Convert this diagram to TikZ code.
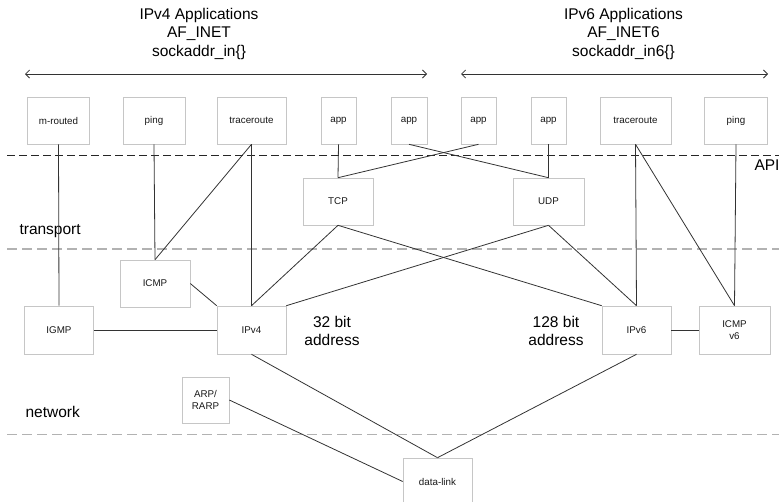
\documentclass[tikz,border=0pt]{standalone}
\usepackage{fontspec}
\setmainfont{Liberation Sans}
\usetikzlibrary{arrows.meta}

\begin{document}
\begin{tikzpicture}[x=1pt, y=-1pt, >={Straight Barb[length=4pt,width=8pt]},
  box/.style={draw=gray!45, line width=0.6pt, fill=white, inner sep=0pt,
    minimum height=47pt, text=black!90, align=center,
    font=\fontsize{9.8}{12.5}\selectfont},
  link/.style={draw=black!80, line width=0.8pt},
  layer/.style={draw=gray!60, line width=1.8pt, dash pattern=on 10pt off 5pt},
  big/.style={text=black, align=center, font=\fontsize{15.5}{18.5}\selectfont}]
  % page 779 x 501 px, one px = 1pt, y grows downwards
  \useasboundingbox (0,0) rectangle (779,501);

  % Headings and scope arrows
  \node[big] (v4head) at (199,33.5) {IPv4 Applications\\AF\_INET\\sockaddr\_in\{\}};
  \node[big] (v6head) at (623.5,33.5) {IPv6 Applications\\AF\_INET6\\sockaddr\_in6\{\}};
  \coordinate (v4l) at (25,74);
  \coordinate (v4r) at (427,74);
  \coordinate (v6l) at (461,74);
  \coordinate (v6r) at (768,74);
  \draw[<->, black!80, line width=0.8pt] (v4l) -- (v4r);
  \draw[<->, black!80, line width=0.8pt] (v6l) -- (v6r);

  % Layer boundaries
  \coordinate (apil) at (7,155);   \coordinate (apir) at (779,155);
  \coordinate (trl) at (7,249);    \coordinate (trr) at (779,249);
  \coordinate (netl) at (7,434.5); \coordinate (netr) at (779,434.5);
  \draw[black!85, line width=1pt, dash pattern=on 8pt off 4pt] (apil) -- (apir);
  \draw[layer] (trl) -- (trr);
  \draw[layer] (netl) -- (netr);
  \node[big, anchor=west] (api) at (751,165) {API};
  \node[big, anchor=west] (transport) at (16,231) {transport};
  \node[big, anchor=west] (network) at (22,412) {network};
  \node[big] (bits32) at (332,331) {32 bit\\address};
  \node[big] (bits128) at (556,331) {128 bit\\address};

  % Applications
  \node[box, minimum width=62pt] (mrouted) at (58.5,120.5) {m-routed};
  \node[box, minimum width=62pt] (ping4) at (154,120.5) {ping};
  \node[box, minimum width=69pt] (trace4) at (251.5,120.5) {traceroute};
  \node[box, minimum width=35pt] (app1) at (338.5,120.5) {app};
  \node[box, minimum width=36pt] (app2) at (409,120.5) {app};
  \node[box, minimum width=35pt] (app3) at (478.5,120.5) {app};
  \node[box, minimum width=35pt] (app4) at (548.5,120.5) {app};
  \node[box, minimum width=71pt] (trace6) at (635.5,120.5) {traceroute};
  \node[box, minimum width=63pt] (ping6) at (736,120.5) {ping};

  % Transport
  \node[box, minimum width=70pt] (tcp) at (338,201.5) {TCP};
  \node[box, minimum width=71pt] (udp) at (548.5,201.5) {UDP};

  % Network
  \node[box, minimum width=70pt] (icmp4) at (155,283.5) {ICMP};
  \node[box, minimum width=69pt, minimum height=48pt] (igmp) at (59,330) {IGMP};
  \node[box, minimum width=69pt, minimum height=48pt] (ipv4) at (251.5,330) {IPv4};
  \node[box, minimum width=69pt, minimum height=48pt] (ipv6) at (636.5,330) {IPv6};
  \node[box, minimum width=71pt, minimum height=48pt] (icmp6) at (734.5,330) {ICMP\\v6};
  \node[box, minimum width=47pt, minimum height=46pt] (arp) at (205.5,400) {ARP/\\RARP};

  % Data link
  \node[box, minimum width=69pt] (dlink) at (437.5,481.5) {data-link};

  % Connections
  \draw[link] (mrouted.south) -- (igmp.north);
  \draw[link] (ping4.south) -- (icmp4.north);
  \draw[link] (trace4.south) -- (icmp4.north);
  \draw[link] (trace4.south) -- (ipv4.north);
  \draw[link] (app1.south) -- (tcp.north);
  \draw[link] (app3.south) -- (tcp.north);
  \draw[link] (app2.south) -- (udp.north);
  \draw[link] (app4.south) -- (udp.north);
  \draw[link] (trace6.south) -- (ipv6.north);
  \draw[link] (trace6.south) -- (icmp6.north);
  \draw[link] (ping6.south) -- (icmp6.north);
  \draw[link] (tcp.south) -- (ipv4.north);
  \draw[link] (tcp.south) -- (ipv6.north west);
  \draw[link] (udp.south) -- (ipv4.north east);
  \draw[link] (udp.south) -- (ipv6.north);
  \draw[link] (icmp4.east) -- (ipv4.north west);
  \draw[link] (igmp.east) -- (ipv4.west);
  \draw[link] (ipv6.east) -- (icmp6.west);
  \draw[link] (ipv4.south) -- (dlink.north);
  \draw[link] (ipv6.south) -- (dlink.north);
  \draw[link] (arp.east) -- (dlink.west);
\end{tikzpicture}
\end{document}
